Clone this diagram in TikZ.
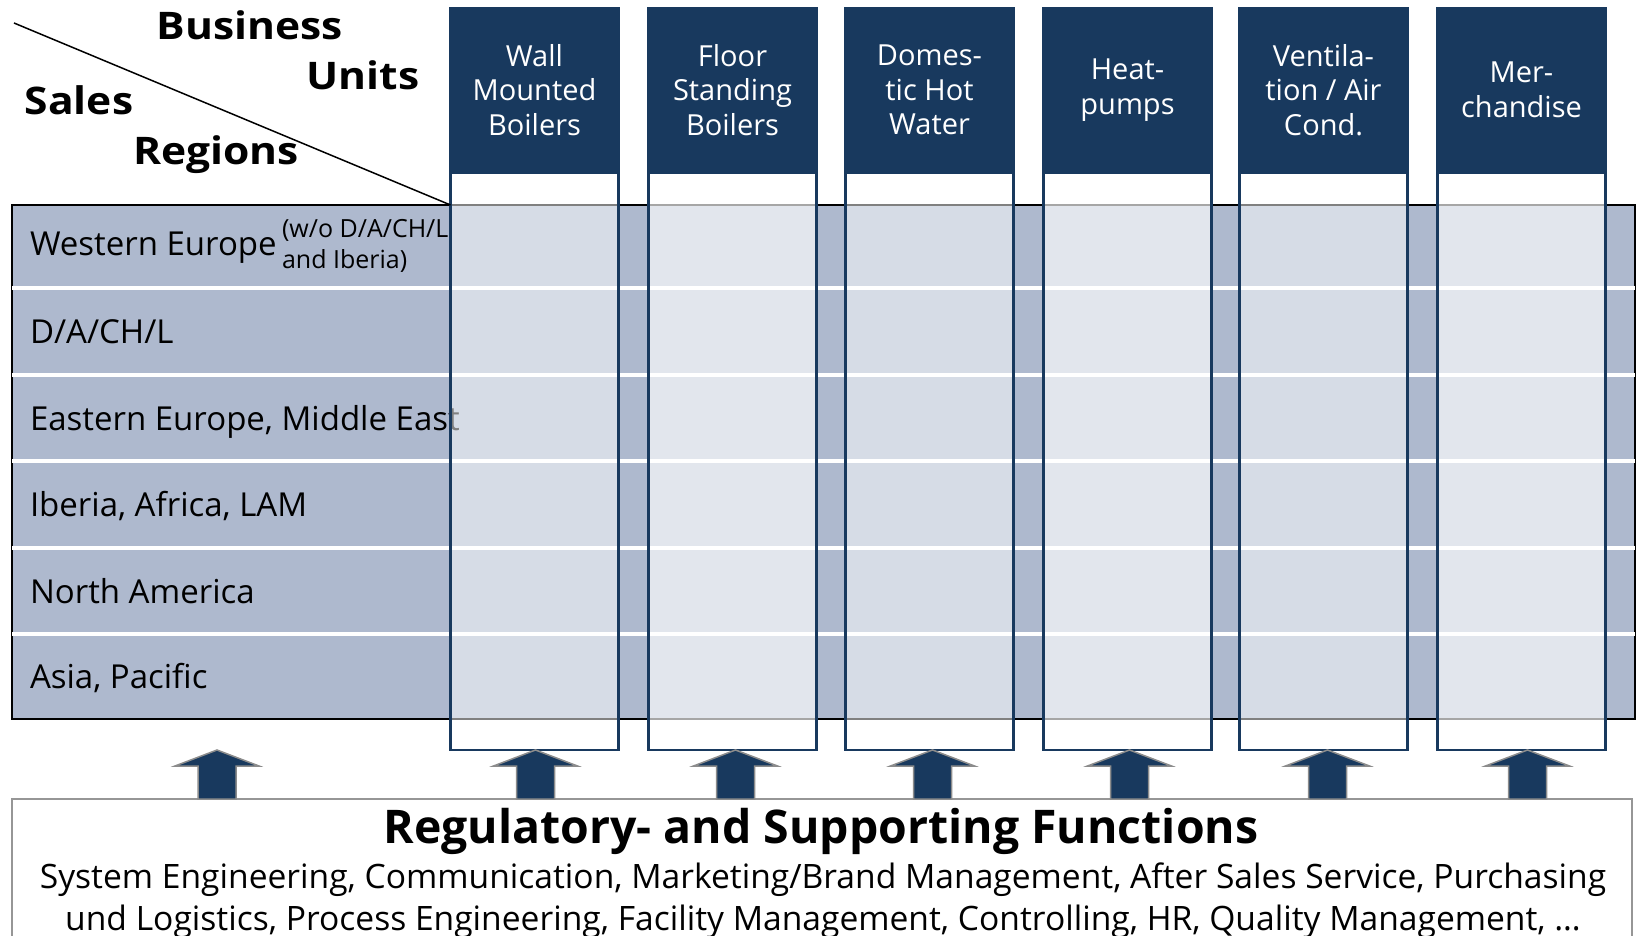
\documentclass[tikz,border=0pt]{standalone}
\usepackage{fontspec}
\setmainfont{Open Sans}
\newfontfamily\wideb[FakeStretch=1.12]{Open Sans}
\definecolor{bdark}{RGB}{24,57,94}
\definecolor{tabfill}{RGB}{174,185,206}
\definecolor{boxgray}{RGB}{150,150,150}
\definecolor{argray}{RGB}{140,140,140}
\newcommand\fsz[1]{\fontsize{#1}{#1}\selectfont}
\newcommand\blockup[1]{\filldraw[barrow] (#1) ++(-19,0) -- ++(0,-33) -- ++(-23,0) -- ++(42,-16) -- ++(42,16) -- ++(-23,0) -- ++(0,33) -- cycle;}
\begin{document}
\begin{tikzpicture}[x=1pt,y=-1pt,
  every node/.style={inner sep=0pt,outer sep=0pt},
  tabbox/.style={anchor=north west,fill=tabfill,draw=black,line width=2pt,minimum width=1623pt,minimum height=514pt},
  rowlbl/.style={anchor=base west,font=\fsz{33}},
  sublbl/.style={anchor=base west,font=\fsz{25}},
  sepline/.style={white,line width=4pt},
  colbody/.style={anchor=north west,draw=bdark,line width=2.5pt,fill=white,minimum width=168pt,minimum height=577pt},
  hdr/.style={anchor=north west,fill=bdark,text=white,align=center,minimum width=171pt,minimum height=166pt,font=\fontsize{29}{34.5}\selectfont},
  bigl/.style={anchor=base,font=\wideb\fsz{38}\bfseries},
  supbox/.style={anchor=north west,draw=boxgray,line width=2pt,fill=white,minimum width=1620pt,minimum height=150pt},
  barrow/.style={fill=bdark,draw=argray,line width=1.5pt,line join=miter},
]
\useasboundingbox (0,0) rectangle (1636,936);
% regions table
\node[tabbox] (tab) at (12,205) {};
\foreach \y in {288,374.5,461,547.5,634}{\draw[sepline] (tab.west |- 0,\y) -- (tab.east |- 0,\y);}
\node[rowlbl] (r1) at (30,255) {Western Europe};
\node[sublbl] (r1a) at (282,238) {(w/o D/A/CH/L};
\node[sublbl] (r1b) at (282,269) {and Iberia)};
\node[rowlbl] (r2) at (30,343) {D/A/CH/L};
\node[rowlbl] (r3) at (30,430) {Eastern Europe, Middle East};
\node[rowlbl] (r4) at (30,516) {Iberia, Africa, LAM};
\node[rowlbl] (r5) at (30,603) {North America};
\node[rowlbl] (r6) at (30,688) {Asia, Pacific};
% columns
\node[colbody,fill opacity=0.5]  (c1) at (450.5,173) {};
\node[colbody,fill opacity=0.65] (c2) at (648.5,173) {};
\node[colbody,fill opacity=0.5]  (c3) at (845.5,173) {};
\node[colbody,fill opacity=0.65] (c4) at (1043.5,173) {};
\node[colbody,fill opacity=0.5]  (c5) at (1239.5,173) {};
\node[colbody,fill opacity=0.65] (c6) at (1437.5,173) {};
\node[hdr] (h1) at (449,7) {Wall\\Mounted\\Boilers};
\node[hdr] (h2) at (647,7) {Floor\\Standing\\Boilers};
\node[hdr] (h3) at (844,7) {Domes-\\tic Hot\\Water};
\node[hdr] (h4) at (1042,7) {Heat-\\pumps};
\node[hdr] (h5) at (1238,7) {Ventila-\\tion / Air\\Cond.};
\node[hdr] (h6) at (1436,7) {Mer-\\chandise};
% corner
\coordinate (dstart) at (14,23);
\draw[line width=1.5pt] (dstart) -- (c1.west |- tab.north);
\node[bigl] (bu1) at (250,40) {Business};
\node[bigl] (bu2) at (363,90) {Units};
\node[bigl] (sr1) at (79,115) {Sales};
\node[bigl] (sr2) at (216,165) {Regions};
% supporting functions
\node[supbox] (sup) at (12,799) {};
\node[anchor=base,font=\fsz{46.4}\bfseries] (st) at (821,843) {Regulatory- and Supporting Functions};
\node[anchor=base,font=\fsz{33.6}] (s1) at (823,888) {System Engineering, Communication, Marketing/Brand Management, After Sales Service, Purchasing};
\node[anchor=base,font=\fsz{33.6}] (s2) at (823,930) {und Logistics, Process Engineering, Facility Management, Controlling, HR, Quality Management, \dots};
% arrows
\coordinate (a0) at (217,799);
\coordinate (a1) at ([xshift=1pt]c1.south |- sup.north);
\coordinate (a2) at ([xshift=3pt]c2.south |- sup.north);
\coordinate (a3) at ([xshift=3pt]c3.south |- sup.north);
\coordinate (a4) at ([xshift=2pt]c4.south |- sup.north);
\coordinate (a5) at ([xshift=4pt]c5.south |- sup.north);
\coordinate (a6) at ([xshift=6pt]c6.south |- sup.north);
\foreach \a in {a0,a1,a2,a3,a4,a5,a6}{\blockup{\a}}
\end{tikzpicture}
\end{document}
